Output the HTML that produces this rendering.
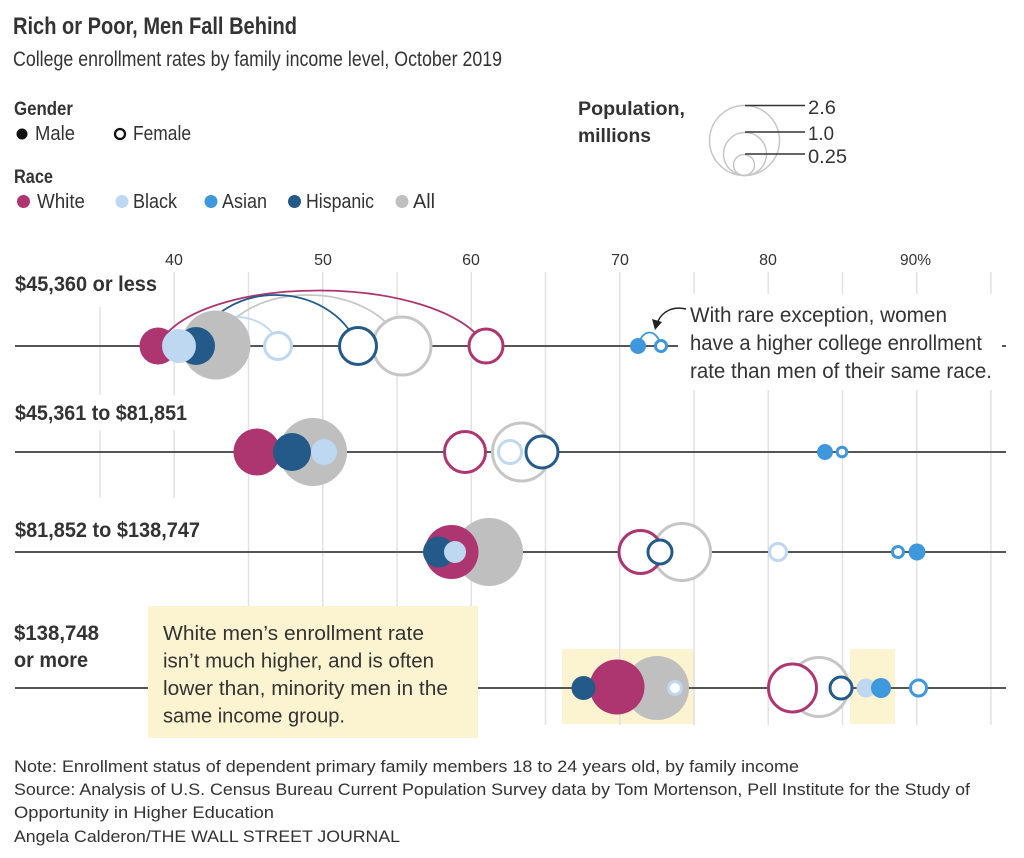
<!DOCTYPE html>
<html><head><meta charset="utf-8">
<style>
html,body{margin:0;padding:0;background:#fff;}
svg{display:block;}
text{font-family:"Liberation Sans",sans-serif;fill:#333;}
.b{font-weight:bold;}
</style></head><body>
<svg width="1024" height="858" viewBox="0 0 1024 858" xmlns="http://www.w3.org/2000/svg">
<rect width="1024" height="858" fill="#fff"/>

<!-- Title -->
<text x="13" y="34" font-size="24" class="b" textLength="284" lengthAdjust="spacingAndGlyphs">Rich or Poor, Men Fall Behind</text>
<text x="13" y="66" font-size="21" textLength="489" lengthAdjust="spacingAndGlyphs">College enrollment rates by family income level, October 2019</text>

<!-- Gender legend -->
<text x="14" y="115" font-size="19" class="b" textLength="59" lengthAdjust="spacingAndGlyphs">Gender</text>
<circle cx="22" cy="134" r="5.5" fill="#111"/>
<text x="35" y="140" font-size="20" textLength="40" lengthAdjust="spacingAndGlyphs">Male</text>
<circle cx="120" cy="134" r="5" fill="none" stroke="#111" stroke-width="2.3"/>
<text x="133" y="140" font-size="20" textLength="58" lengthAdjust="spacingAndGlyphs">Female</text>

<!-- Race legend -->
<text x="14" y="183" font-size="19" class="b" textLength="39" lengthAdjust="spacingAndGlyphs">Race</text>
<circle cx="23.5" cy="201.5" r="6.5" fill="#ae3670"/>
<text x="37" y="208" font-size="20" textLength="48" lengthAdjust="spacingAndGlyphs">White</text>
<circle cx="122" cy="201.5" r="6.5" fill="#bdd8f0"/>
<text x="133" y="208" font-size="20" textLength="44" lengthAdjust="spacingAndGlyphs">Black</text>
<circle cx="211" cy="201.5" r="6.5" fill="#3f97dc"/>
<text x="222" y="208" font-size="20" textLength="45" lengthAdjust="spacingAndGlyphs">Asian</text>
<circle cx="294.5" cy="201.5" r="6.5" fill="#235a89"/>
<text x="306" y="208" font-size="20" textLength="68" lengthAdjust="spacingAndGlyphs">Hispanic</text>
<circle cx="402" cy="201.5" r="6.5" fill="#bfbfbf"/>
<text x="413" y="208" font-size="20" textLength="22" lengthAdjust="spacingAndGlyphs">All</text>

<!-- Population legend -->
<text x="578" y="115" font-size="19" class="b" textLength="107" lengthAdjust="spacingAndGlyphs">Population,</text>
<text x="578" y="142" font-size="19" class="b" textLength="73" lengthAdjust="spacingAndGlyphs">millions</text>
<g fill="none" stroke="#c6c6c6" stroke-width="1.5">
<circle cx="744.5" cy="140.5" r="35"/>
<circle cx="745" cy="154" r="21.5"/>
<circle cx="744" cy="165" r="10.5"/>
</g>
<g stroke="#333" stroke-width="1.6">
<line x1="745" y1="105.5" x2="805" y2="105.5"/>
<line x1="745" y1="132" x2="805" y2="132"/>
<line x1="745" y1="154" x2="805" y2="154"/>
</g>
<text x="808" y="114" font-size="19" textLength="28" lengthAdjust="spacingAndGlyphs">2.6</text>
<text x="808" y="140" font-size="19" textLength="26" lengthAdjust="spacingAndGlyphs">1.0</text>
<text x="808" y="163" font-size="19" textLength="39" lengthAdjust="spacingAndGlyphs">0.25</text>

<!-- Tick labels -->
<g font-size="16" text-anchor="middle">
<text x="174" y="265" fill="#444">40</text>
<text x="323" y="265" fill="#444">50</text>
<text x="471" y="265" fill="#444">60</text>
<text x="620" y="265" fill="#444">70</text>
<text x="768" y="265" fill="#444">80</text>
</g>
<text x="900" y="265" font-size="16" fill="#444" textLength="31" lengthAdjust="spacingAndGlyphs">90%</text>

<!-- Highlight boxes -->
<rect x="562" y="649" width="133" height="75" fill="#fcf4d0"/>
<rect x="850" y="649" width="45" height="75" fill="#fcf4d0"/>

<!-- Gridlines -->
<g stroke="#e2e2e2" stroke-width="1.5">
<line x1="100" y1="307" x2="100" y2="395"/>
<line x1="100" y1="430" x2="100" y2="498"/>
<line x1="174.25" y1="272" x2="174.25" y2="395"/>
<line x1="174.25" y1="430" x2="174.25" y2="498"/>
<line x1="248.5" y1="272" x2="248.5" y2="725"/>
<line x1="322.75" y1="272" x2="322.75" y2="725"/>
<line x1="397" y1="272" x2="397" y2="725"/>
<line x1="471.25" y1="272" x2="471.25" y2="725"/>
<line x1="545.5" y1="272" x2="545.5" y2="725"/>
<line x1="619.75" y1="272" x2="619.75" y2="725"/>
<line x1="694" y1="272" x2="694" y2="725"/>
<line x1="768.25" y1="272" x2="768.25" y2="725"/>
<line x1="842.5" y1="272" x2="842.5" y2="725"/>
<line x1="916.75" y1="272" x2="916.75" y2="725"/>
<line x1="991" y1="272" x2="991" y2="725"/>
</g>

<!-- White box behind annotation 1 -->
<rect x="680" y="294" width="321" height="96" fill="#fff"/>

<!-- Yellow annotation box -->
<rect x="148" y="606" width="330" height="132" fill="#fcf4d0"/>

<!-- Baselines -->
<g stroke="#555" stroke-width="2">
<line x1="15" y1="346" x2="678" y2="346"/>
<line x1="1002" y1="346" x2="1006" y2="346"/>
<line x1="15" y1="452" x2="1006" y2="452"/>
<line x1="15" y1="552" x2="1006" y2="552"/>
<line x1="15" y1="688" x2="148" y2="688"/>
<line x1="478" y1="688" x2="1006" y2="688"/>
</g>

<!-- Arcs row 1 -->
<g fill="none" stroke-width="1.8">
<path d="M158,346 C195,272 440,272 486,346" stroke="#ae3670"/>
<path d="M216,346 C240,278 375,278 402,346" stroke="#c6c6c6"/>
<path d="M196,346 C220,278 330,278 358,346" stroke="#235a89"/>
<path d="M179,346 C200,307 270,307 278,346" stroke="#bdd8f0"/>
<path d="M638,346 C642,328 657,328 661,346" stroke="#3f97dc"/>
</g>

<!-- Row 1 circles -->
<circle cx="216" cy="345" r="34.5" fill="#bfbfbf"/>
<circle cx="196" cy="346" r="19" fill="#235a89"/>
<circle cx="158" cy="346" r="18.5" fill="#ae3670"/>
<circle cx="179" cy="346" r="17" fill="#bdd8f0"/>
<circle cx="638" cy="346" r="8" fill="#3f97dc"/>
<g fill="#fff" stroke-width="3">
<circle cx="402" cy="346" r="29" stroke="#c6c6c6"/>
<circle cx="358" cy="346" r="18.5" stroke="#235a89"/>
<circle cx="486" cy="346" r="17" stroke="#ae3670"/>
<circle cx="278" cy="346" r="13.5" stroke="#bdd8f0"/>
<circle cx="661" cy="346" r="5.5" stroke="#3f97dc"/>
</g>

<!-- Row 2 circles -->
<circle cx="313" cy="452" r="34" fill="#bfbfbf"/>
<circle cx="257" cy="452" r="23.5" fill="#ae3670"/>
<circle cx="292" cy="452" r="19" fill="#235a89"/>
<circle cx="324" cy="452" r="13" fill="#bdd8f0"/>
<circle cx="825" cy="452" r="8" fill="#3f97dc"/>
<g fill="#fff" stroke-width="3">
<circle cx="521.5" cy="452" r="29" stroke="#c6c6c6"/>
<circle cx="465" cy="452" r="20.5" stroke="#ae3670"/>
<circle cx="542" cy="452" r="16" stroke="#235a89"/>
<circle cx="510" cy="452" r="11.5" stroke="#bdd8f0"/>
<circle cx="842" cy="452" r="4.8" stroke="#3f97dc"/>
</g>

<!-- Row 3 circles -->
<circle cx="489" cy="552" r="34" fill="#bfbfbf"/>
<circle cx="451.5" cy="552" r="27" fill="#ae3670"/>
<circle cx="438.5" cy="552" r="15.5" fill="#235a89"/>
<circle cx="455" cy="552" r="11" fill="#bdd8f0"/>
<circle cx="917" cy="552" r="8.5" fill="#3f97dc"/>
<g fill="#fff" stroke-width="3">
<circle cx="682" cy="552" r="28.5" stroke="#c6c6c6"/>
<circle cx="640.5" cy="552" r="21.5" stroke="#ae3670"/>
<circle cx="660" cy="552" r="12" stroke="#235a89"/>
<circle cx="778" cy="552" r="8.5" stroke="#bdd8f0"/>
<circle cx="898" cy="552" r="5.5" stroke="#3f97dc"/>
</g>

<!-- Row 4 circles -->
<circle cx="657" cy="688" r="32" fill="#bfbfbf"/>
<circle cx="617" cy="687" r="27.5" fill="#ae3670"/>
<circle cx="583.5" cy="688" r="12" fill="#235a89"/>
<circle cx="675" cy="688" r="6.5" fill="#fff" stroke="#bdd8f0" stroke-width="3"/>
<g fill="#fff" stroke-width="3">
<circle cx="819" cy="687" r="29.5" stroke="#c6c6c6"/>
<circle cx="792.5" cy="688" r="24" stroke="#ae3670"/>
<circle cx="841" cy="688" r="11" stroke="#235a89"/>
</g>
<circle cx="866" cy="688" r="9.5" fill="#bdd8f0"/>
<circle cx="881" cy="688" r="10" fill="#3f97dc"/>
<circle cx="918.5" cy="688" r="8" fill="#fff" stroke="#3f97dc" stroke-width="3"/>

<!-- Row labels -->
<text x="15" y="291" font-size="21" class="b" textLength="142" lengthAdjust="spacingAndGlyphs">$45,360 or less</text>
<text x="15" y="420" font-size="21" class="b" textLength="172" lengthAdjust="spacingAndGlyphs">$45,361 to $81,851</text>
<text x="15" y="537" font-size="21" class="b" textLength="185" lengthAdjust="spacingAndGlyphs">$81,852 to $138,747</text>
<text x="14" y="640" font-size="21" class="b" textLength="85" lengthAdjust="spacingAndGlyphs">$138,748</text>
<text x="14" y="667" font-size="21" class="b" textLength="74" lengthAdjust="spacingAndGlyphs">or more</text>

<!-- Annotation 1 -->
<path d="M686,309 C673,306 663,311 658,321" fill="none" stroke="#222" stroke-width="1.5"/>
<polygon points="652,319 662,322 655,330" fill="#222"/>
<text x="690" y="322" font-size="21" textLength="257" lengthAdjust="spacingAndGlyphs">With rare exception, women</text>
<text x="690" y="350" font-size="21" textLength="292" lengthAdjust="spacingAndGlyphs">have a higher college enrollment</text>
<text x="690" y="378" font-size="21" textLength="302" lengthAdjust="spacingAndGlyphs">rate than men of their same race.</text>

<!-- Annotation 2 -->
<text x="163" y="640" font-size="20" textLength="261" lengthAdjust="spacingAndGlyphs">White men’s enrollment rate</text>
<text x="163" y="667.5" font-size="20" textLength="271" lengthAdjust="spacingAndGlyphs">isn’t much higher, and is often</text>
<text x="163" y="695" font-size="20" textLength="285" lengthAdjust="spacingAndGlyphs">lower than, minority men in the</text>
<text x="163" y="722.5" font-size="20" textLength="182" lengthAdjust="spacingAndGlyphs">same income group.</text>

<!-- Footer -->
<g font-size="17">
<text x="14" y="772" fill="#555" textLength="785" lengthAdjust="spacingAndGlyphs">Note: Enrollment status of dependent primary family members 18 to 24 years old, by family income</text>
<text x="14" y="795" fill="#555" textLength="956" lengthAdjust="spacingAndGlyphs">Source: Analysis of U.S. Census Bureau Current Population Survey data by Tom Mortenson, Pell Institute for the Study of</text>
<text x="14" y="818" fill="#555" textLength="260" lengthAdjust="spacingAndGlyphs">Opportunity in Higher Education</text>
<text x="14" y="842" fill="#555" textLength="386" lengthAdjust="spacingAndGlyphs">Angela Calderon/THE WALL STREET JOURNAL</text>
</g>
</svg>
</body></html>
